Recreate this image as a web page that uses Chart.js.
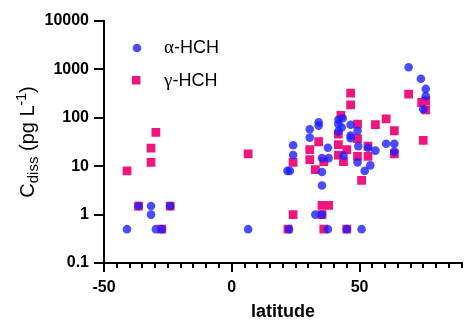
<!DOCTYPE html>
<html>
<head>
<meta charset="utf-8">
<script src="https://cdn.jsdelivr.net/npm/chart.js@4"></script>
<style>
  body { margin: 0; background: #fff; }
  #wrap { width: 468px; height: 323px; }
</style>
</head>
<body>
<div id="wrap"><canvas id="scatterChart" width="468" height="323"></canvas></div>
<script>
// values
const alphaLat = [-41, -36.5, -31.6, -31.6, -29.7, -27.4, -24.1, 6.4,
  22.4, 21.8, 22.7, 24, 24, 30.5, 30.5, 34, 34, 32.7, 35.3, 35.3, 35.3, 35.3, 37.9, 37.6, 37.6,
  41.7, 43.4, 41.7, 43, 41.7, 46.5, 49.2, 46.5, 46.5, 49.5, 53.3, 56.2, 43.7, 49.2, 45, 50.8,
  52, 54.2, 60.4, 63.6, 63.6, 69.2, 74, 75.9, 75.9, 74.9];
const alphaConc = [0.5, 1.5, 1.5, 1, 0.5, 0.5, 1.5, 0.5,
  0.5, 8, 8, 27, 17, 58, 39, 81, 69, 1, 1, 7.6, 4, 14.7, 14.7, 24, 0.5,
  91, 98, 74, 63, 52, 72, 54, 43, 38, 26, 24, 21, 16.5, 12, 0.5, 0.5,
  8, 10.4, 29, 29, 20, 1110, 640, 395, 280, 150];

const gammaLat = [-29.7, -31.6, -31.6, -41, 6.4, -36.5, -24.1, -27.4,
  46.5, 46.5, 42.7, 49.2, 56.2, 60.4, 63.6, 41.7, 34, 49.2, 41.7, 30.5, 45, 53.3, 41.7, 30.5,
  49.2, 53.3, 63.6, 24, 36, 43.7, 32.7, 50.8, 35.3, 37.9, 24, 35.3, 22, 36, 45,
  69.2, 74.3, 75.9, 75.9, 74.9];
const gammaConc = [50, 23.7, 12, 8, 18, 1.5, 1.5, 0.5,
  323, 185, 112, 74, 72, 95, 54, 46, 32, 37, 28, 22, 22, 26, 17, 13.6,
  16, 16, 18, 12, 12.5, 12.5, 8.5, 5.1, 1.55, 1.55, 1, 1, 0.5, 0.5, 0.5,
  308, 207, 224, 146, 34];

const yTicks = [0.1, 1, 10, 100, 1000, 10000];
const xTicks = [-50, 0, 50];
const xMinorStep = 5;

const blue = 'rgba(30, 30, 255, 0.8)';
const pink = 'rgb(240, 22, 125)';
const sans = "Arial, 'Liberation Sans', sans-serif";

const toPoints = (xs, ys) => xs.map((x, i) => ({ x: x, y: ys[i] }));

// minor ticks on x, y-axis title with sub/superscript, legend inside plot
const extras = {
  id: 'extras',
  afterDraw(chart) {
    const ctx = chart.ctx;
    const area = chart.chartArea;
    const xs = chart.scales.x;

    ctx.save();
    ctx.strokeStyle = '#000';
    ctx.lineWidth = 2;
    for (let v = xs.min; v <= xs.max; v += xMinorStep) {
      const px = Math.round(xs.getPixelForValue(v));
      ctx.beginPath();
      ctx.moveTo(px, area.bottom);
      ctx.lineTo(px, area.bottom + 5);
      ctx.stroke();
    }
    ctx.restore();

    // y title: C_diss (pg L^-1)
    const parts = [
      { t: 'C', size: 20, dy: 0 },
      { t: 'diss', size: 15, dy: 4 },
      { t: ' (pg L', size: 20, dy: 0 },
      { t: '-1', size: 14, dy: -8 },
      { t: ')', size: 20, dy: 0 }
    ];
    ctx.save();
    ctx.translate(34, (area.top + area.bottom) / 2);
    ctx.rotate(-Math.PI / 2);
    ctx.fillStyle = '#000';
    ctx.textBaseline = 'alphabetic';
    let total = 0;
    parts.forEach(p => { ctx.font = p.size + 'px ' + sans; p.w = ctx.measureText(p.t).width; total += p.w; });
    let cx = -total / 2;
    parts.forEach(p => {
      ctx.font = p.size + 'px ' + sans;
      ctx.fillText(p.t, cx, p.dy);
      cx += p.w;
    });
    ctx.restore();

    // legend
    ctx.save();
    ctx.fillStyle = blue;
    ctx.beginPath();
    ctx.arc(137, 48, 4.3, 0, Math.PI * 2);
    ctx.fill();
    ctx.fillStyle = pink;
    ctx.fillRect(132, 76, 8.5, 8.5);
    ctx.fillStyle = '#000';
    ctx.textBaseline = 'middle';
    const legendRows = [['\u03b1', '-HCH', 48], ['\u03b3', '-HCH', 81]];
    legendRows.forEach(r => {
      ctx.font = "19px 'Liberation Serif', serif";
      ctx.fillText(r[0], 164, r[2]);
      const w = ctx.measureText(r[0]).width;
      ctx.font = '18px ' + sans;
      ctx.fillText(r[1], 164 + w, r[2]);
    });
    ctx.restore();
  }
};

const ctx = document.getElementById('scatterChart');

new Chart(ctx, {
  type: 'scatter',
  data: {
    datasets: [{
      label: '\u03b1-HCH',
      data: toPoints(alphaLat, alphaConc),
      backgroundColor: blue,
      borderWidth: 0,
      pointStyle: 'circle',
      pointRadius: 4.3
    }, {
      label: '\u03b3-HCH',
      data: toPoints(gammaLat, gammaConc),
      backgroundColor: pink,
      borderWidth: 0,
      pointStyle: 'rect',
      pointRadius: 6.2
    }]
  },
  options: {
    responsive: false,
    animation: false,
    layout: { padding: { top: 21, right: 1, left: 0, bottom: 0 } },
    plugins: {
      legend: { display: false },
      tooltip: { enabled: false }
    },
    scales: {
      x: {
        type: 'linear',
        min: -50,
        max: 90,
        afterBuildTicks: s => { s.ticks = xTicks.map(v => ({ value: v })); },
        afterFit: s => { s.height = 60; },
        border: { color: '#000', width: 2 },
        grid: { drawOnChartArea: false, color: '#000', lineWidth: 2, tickLength: 9 },
        ticks: { color: '#000', padding: 6, maxRotation: 0, font: { family: sans, size: 16, weight: 'bold' } },
        title: { display: true, text: 'latitude', color: '#000', padding: { top: 0, bottom: 0 }, font: { family: sans, size: 18, weight: 'bold' } }
      },
      y: {
        type: 'logarithmic',
        min: 0.1,
        max: 10000,
        afterBuildTicks: s => { s.ticks = yTicks.map(v => ({ value: v })); },
        afterFit: s => { s.width = 104; },
        border: { color: '#000', width: 2 },
        grid: { drawOnChartArea: false, color: '#000', lineWidth: 2, tickLength: 10 },
        ticks: { color: '#000', padding: 5, callback: v => String(v), font: { family: sans, size: 16, weight: 'bold' } }
      }
    }
  },
  plugins: [extras]
});
</script>
</body>
</html>
